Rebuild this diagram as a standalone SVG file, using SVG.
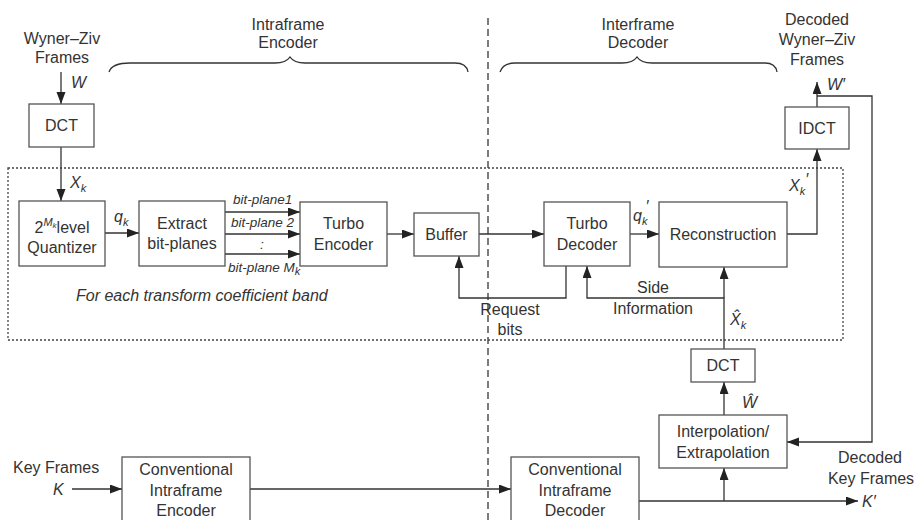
<svg xmlns="http://www.w3.org/2000/svg" width="915" height="520" viewBox="0 0 915 520">
<defs>
<marker id="ah" markerUnits="userSpaceOnUse" markerWidth="13" markerHeight="10" refX="12" refY="4.5" orient="auto">
<path d="M0,0 L12,4.5 L0,9 z" fill="#222"/>
</marker>
<style>
.box{fill:#fff;stroke:#555;stroke-width:1.3}
.ln{fill:none;stroke:#333;stroke-width:1.3}
.arr{fill:none;stroke:#333;stroke-width:1.3;marker-end:url(#ah)}
.t{font-family:"Liberation Sans",Arial,sans-serif;font-size:16px;fill:#333;text-anchor:middle}
.tl{font-family:"Liberation Sans",Arial,sans-serif;font-size:16px;fill:#333}
.m{font-family:"Liberation Sans",Arial,sans-serif;font-size:16px;fill:#333;font-style:italic}
.bp{font-family:"Liberation Sans",Arial,sans-serif;font-size:13.5px;fill:#333;font-style:italic}
.sub{font-size:11px}
</style>
</defs>
<rect width="915" height="520" fill="#fff"/>

<!-- regions -->
<g id="regions">
<rect x="8" y="168" width="835" height="172" fill="none" stroke="#444" stroke-width="1.3" stroke-dasharray="2,2"/>
<line x1="488" y1="18" x2="488" y2="520" stroke="#444" stroke-width="1.4" stroke-dasharray="7,4"/>
<path class="ln" d="M109,72 C111,66 118,63 130,63 L275,63 C284,63 288,60 290,57 C292,60 296,63 305,63 L455,63 C462,63 467,66 468,72"/>
<path class="ln" d="M500,72 C502,66 507,63 515,63 L622,63 C631,63 635,60 637,57 C639,60 643,63 652,63 L765,63 C772,63 776,66 777,72"/>
<text class="t" x="288" y="30">Intraframe</text>
<text class="t" x="288" y="48">Encoder</text>
<text class="t" x="638" y="30">Interframe</text>
<text class="t" x="638" y="48">Decoder</text>
<text class="m" x="76" y="301">For each transform coefficient band</text>
</g>

<!-- connectors -->
<g id="connectors">
<line class="arr" x1="61" y1="72" x2="61" y2="104"/>
<line class="arr" x1="61" y1="147" x2="61" y2="201"/>
<line class="arr" x1="105" y1="233" x2="139" y2="233"/>
<line class="arr" x1="225" y1="212" x2="300" y2="212"/>
<line class="arr" x1="225" y1="234" x2="300" y2="234"/>
<line class="arr" x1="225" y1="254" x2="300" y2="254"/>
<line class="arr" x1="387" y1="234" x2="414" y2="234"/>
<line class="arr" x1="479" y1="234" x2="544" y2="234"/>
<polyline class="arr" points="566,266 566,298 459,298 459,256"/>
<polyline class="arr" points="724,349 724,298 587,298 587,266"/>
<line class="arr" x1="724" y1="298" x2="724" y2="267"/>
<line class="arr" x1="630" y1="234" x2="659" y2="234"/>
<polyline class="arr" points="787,234 817,234 817,149"/>
<line class="arr" x1="817" y1="107" x2="817" y2="82"/>
<polyline class="arr" points="817,96 872,96 872,442 787,442"/>
<line class="arr" x1="724" y1="415" x2="724" y2="382"/>
<line class="arr" x1="72" y1="489" x2="122" y2="489"/>
<line class="arr" x1="250" y1="489" x2="511" y2="489"/>
<line class="arr" x1="639" y1="501" x2="858" y2="501"/>
<line class="arr" x1="724" y1="501" x2="724" y2="468"/>
</g>

<!-- labels -->
<g id="labels">
<text class="t" x="62" y="44">Wyner–Ziv</text>
<text class="t" x="62" y="63">Frames</text>
<text class="m" x="71" y="88">W</text>
<text class="m" x="70" y="188">X<tspan class="sub" dy="4">k</tspan></text>
<text class="m" x="114" y="222">q<tspan class="sub" dy="4">k</tspan></text>
<text class="bp" x="233" y="204">bit-plane1</text>
<text class="bp" x="231" y="227">bit-plane 2</text>
<text class="bp" x="260" y="249">:</text>
<text class="bp" x="228" y="272">bit-plane M<tspan class="sub" dy="3">k</tspan></text>
<text class="m" x="633" y="221">q<tspan class="sub" dy="4">k</tspan><tspan dx="-2" dy="-13">′</tspan></text>
<text class="m" x="789" y="191">X<tspan class="sub" dy="4">k</tspan><tspan dy="-10">′</tspan></text>
<text class="t" x="653" y="293">Side</text>
<text class="t" x="653" y="314">Information</text>
<text class="t" x="510" y="315">Request</text>
<text class="t" x="510" y="335">bits</text>
<text class="m" x="730" y="325">X̂<tspan class="sub" dy="4">k</tspan></text>
<text class="m" x="742" y="408">Ŵ</text>
<text class="t" x="817" y="25">Decoded</text>
<text class="t" x="817" y="45">Wyner–Ziv</text>
<text class="t" x="817" y="65">Frames</text>
<text class="m" x="827" y="90">W′</text>
<text class="t" x="870" y="463">Decoded</text>
<text class="t" x="871" y="484">Key Frames</text>
<text class="m" x="862" y="507">K′</text>
<text class="tl" x="13" y="473">Key Frames</text>
<text class="m" x="53" y="495">K</text>
</g>

<!-- nodes -->
<g id="dct1"><rect class="box" x="29" y="104" width="65" height="43"/><text class="t" x="61.5" y="131">DCT</text></g>
<g id="quantizer"><rect class="box" x="19" y="201" width="86" height="65"/>
<text class="t" x="62" y="233">2<tspan class="sub" font-style="italic" dy="-7">M</tspan><tspan font-size="8px" font-style="italic" dy="2">k</tspan><tspan dy="5">level</tspan></text>
<text class="t" x="62" y="253">Quantizer</text></g>
<g id="extract"><rect class="box" x="139" y="201" width="86" height="65"/><text class="t" x="182" y="229">Extract</text><text class="t" x="182" y="249">bit-planes</text></g>
<g id="turboenc"><rect class="box" x="300" y="202" width="87" height="64"/><text class="t" x="343.5" y="229">Turbo</text><text class="t" x="343.5" y="250">Encoder</text></g>
<g id="buffer"><rect class="box" x="414" y="213" width="65" height="43"/><text class="t" x="446.5" y="240">Buffer</text></g>
<g id="turbodec"><rect class="box" x="544" y="202" width="86" height="64"/><text class="t" x="587" y="229">Turbo</text><text class="t" x="587" y="250">Decoder</text></g>
<g id="recon"><rect class="box" x="659" y="202" width="128" height="65"/><text class="t" x="723" y="240">Reconstruction</text></g>
<g id="idct"><rect class="box" x="785" y="107" width="64" height="42"/><text class="t" x="817" y="134">IDCT</text></g>
<g id="dct2"><rect class="box" x="691" y="349" width="64" height="33"/><text class="t" x="723" y="371">DCT</text></g>
<g id="interp"><rect class="box" x="659" y="415" width="128" height="53"/><text class="t" x="723" y="437">Interpolation/</text><text class="t" x="723" y="458">Extrapolation</text></g>
<g id="convenc"><rect class="box" x="122" y="457" width="128" height="70"/><text class="t" x="186" y="475">Conventional</text><text class="t" x="186" y="496">Intraframe</text><text class="t" x="186" y="516">Encoder</text></g>
<g id="convdec"><rect class="box" x="511" y="457" width="128" height="70"/><text class="t" x="575" y="475">Conventional</text><text class="t" x="575" y="496">Intraframe</text><text class="t" x="575" y="516">Decoder</text></g>
</svg>
